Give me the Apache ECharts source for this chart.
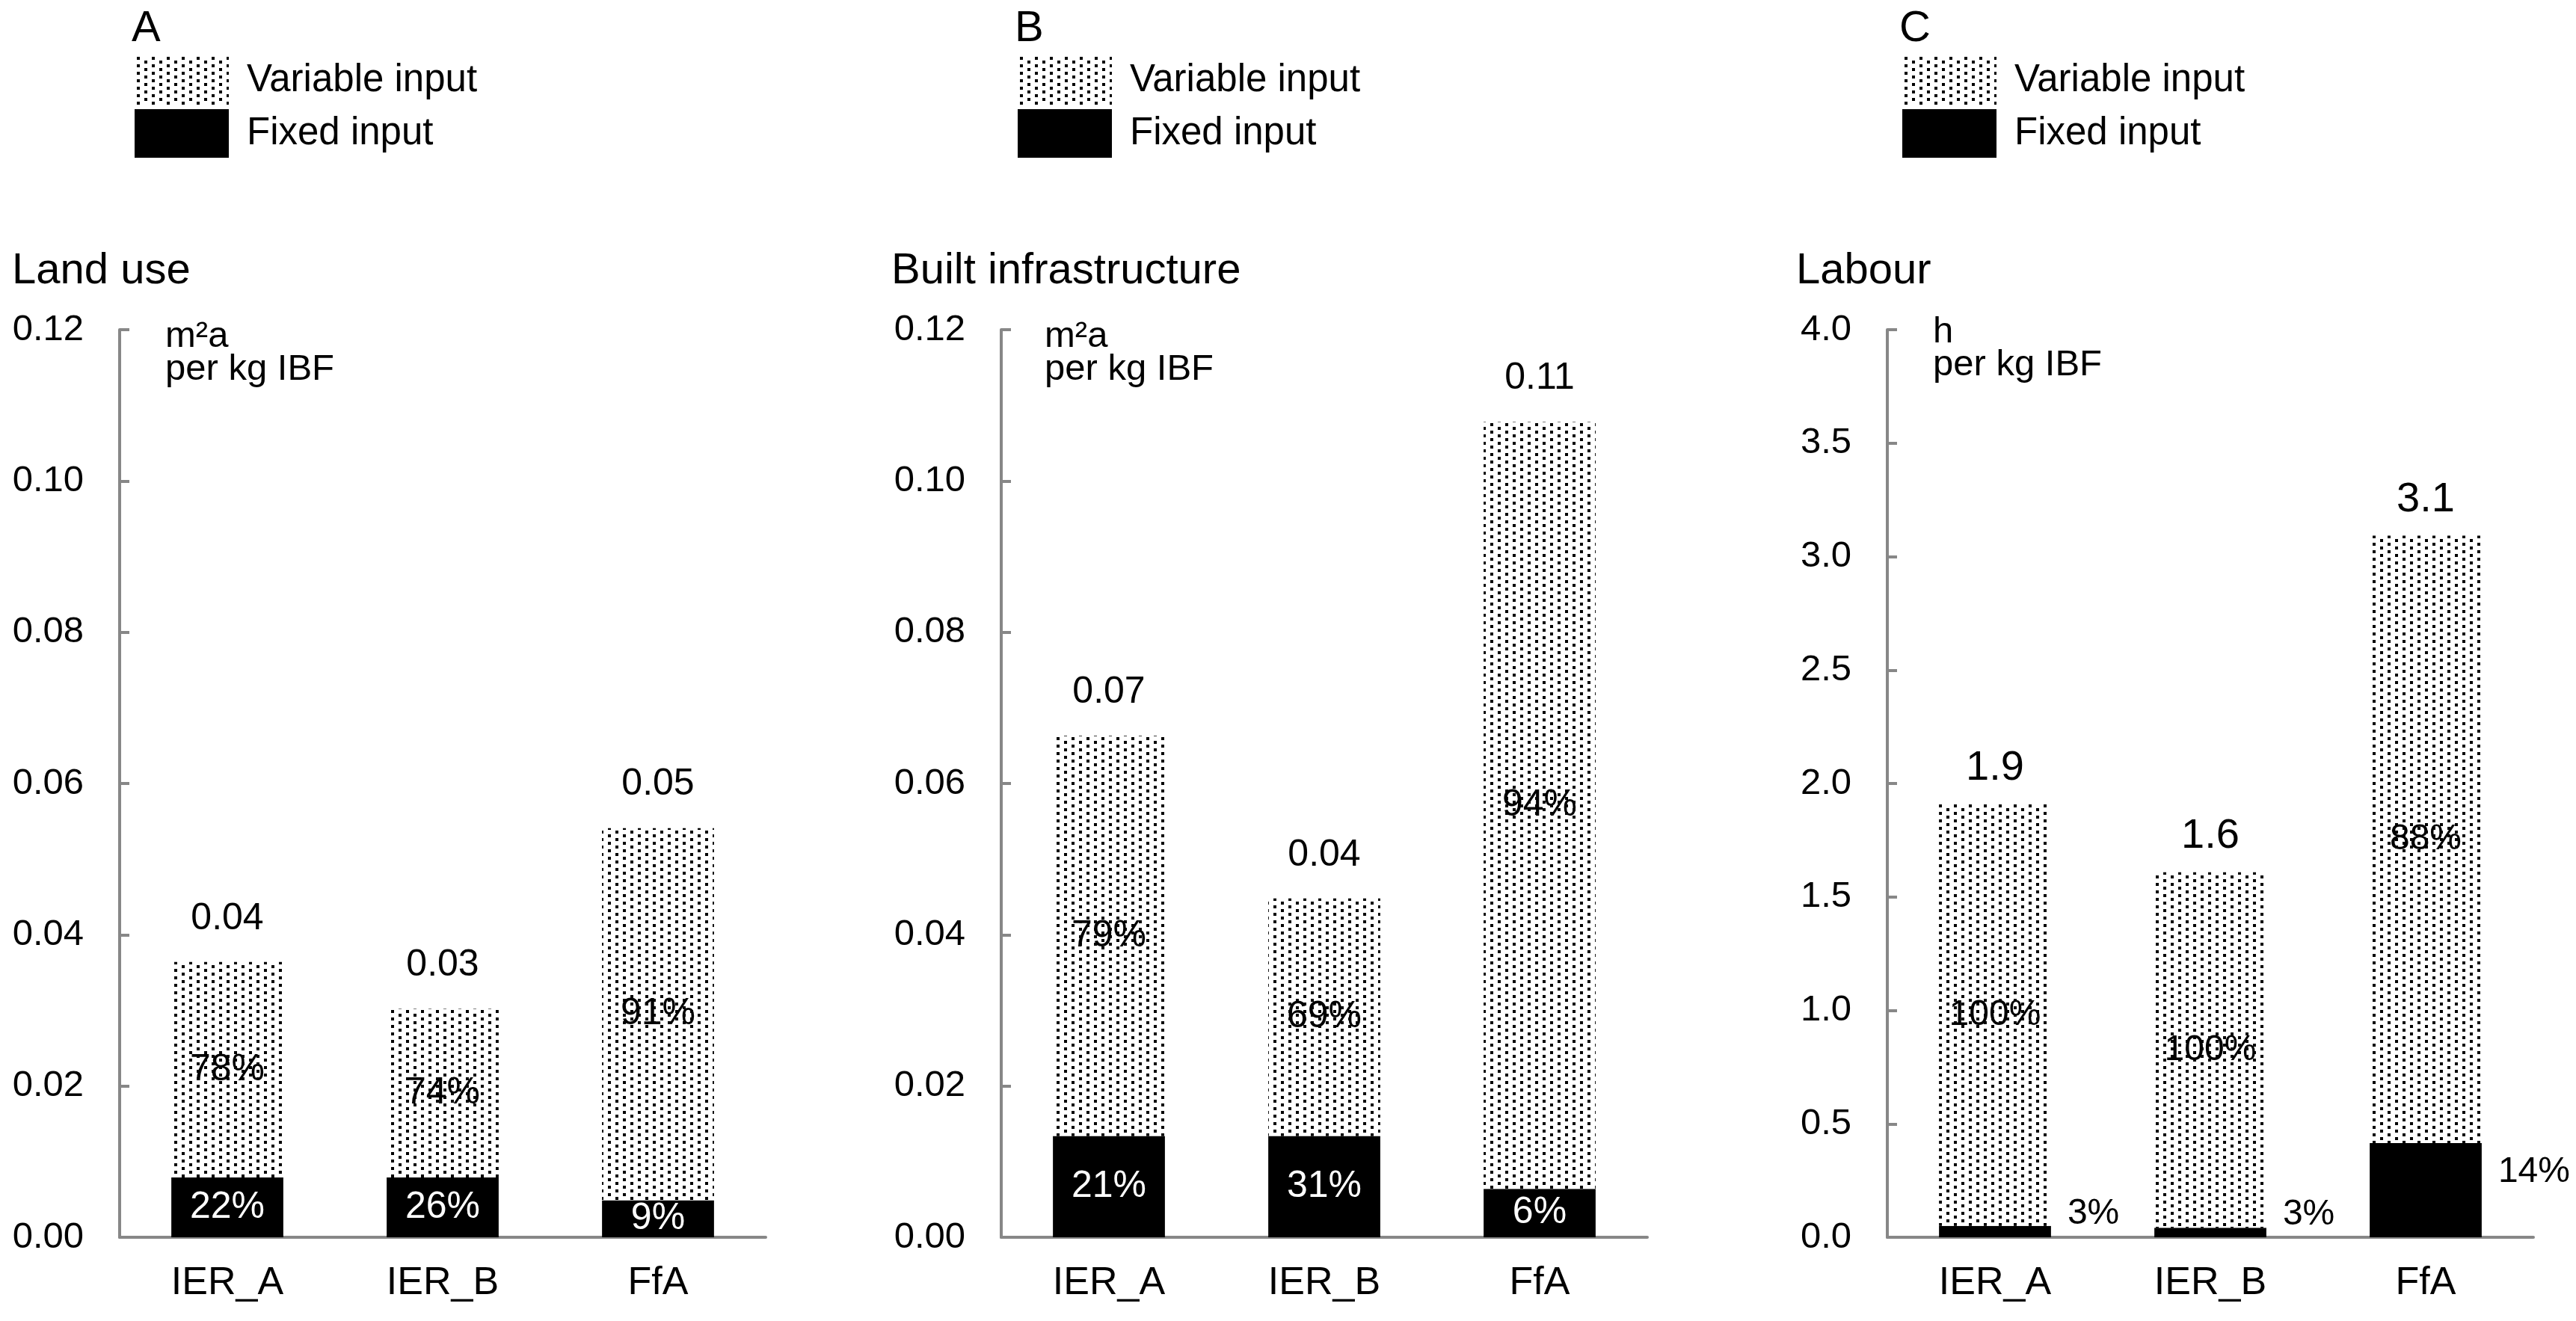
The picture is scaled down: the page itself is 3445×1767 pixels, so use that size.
<!DOCTYPE html>
<html>
<head>
<meta charset="utf-8">
<script src="https://cdn.jsdelivr.net/npm/echarts@6/dist/echarts.min.js"></script>
<style>
  html, body { margin: 0; padding: 0; background: #fff; }
  #chart { width: 3445px; height: 1767px; }
</style>
</head>
<body>
<div id="chart"></div>
<script>
// values (stacked: fixed at bottom, variable on top)
const categories = ['IER_A', 'IER_B', 'FfA'];
const seriesNames = ['Variable input', 'Fixed input'];
const panelLetters = ['A', 'B', 'C'];
const panelTitles = ['Land use', 'Built infrastructure', 'Labour'];
const unitLabels = ['m²a\nper kg IBF', 'm²a\nper kg IBF', 'h\nper kg IBF'];

const landFixed = [0.0079, 0.0079, 0.0049];
const landVariable = [0.0285, 0.0223, 0.0492];
const landFixedPct = ['22%', '26%', '9%'];
const landVariablePct = ['78%', '74%', '91%'];

const infraFixed = [0.0134, 0.0134, 0.0064];
const infraVariable = [0.0529, 0.0314, 0.1014];
const infraFixedPct = ['21%', '31%', '6%'];
const infraVariablePct = ['79%', '69%', '94%'];

const labourFixed = [0.050, 0.042, 0.415];
const labourVariable = [1.858, 1.567, 2.677];
const labourFixedPct = ['3%', '3%', '14%'];
const labourVariablePct = ['100%', '100%', '88%'];

// y axis: [max, interval, decimals]
const landAxis = [0.12, 0.02, 2];
const infraAxis = [0.12, 0.02, 2];
const labourAxis = [4, 0.5, 1];

const FONT = "'Liberation Sans', Arial, Helvetica, sans-serif";
const AXIS_GREY = '#878787';

// dotted fill used for the variable share
function dotPattern() {
  const c = document.createElement('canvas');
  c.width = 20; c.height = 10;
  const g = c.getContext('2d');
  g.fillStyle = '#fff';
  g.fillRect(0, 0, 20, 10);
  g.fillStyle = '#000';
  g.fillRect(3, 1, 4, 4);
  g.fillRect(13, 6, 4, 4);
  return { image: c, repeat: 'repeat' };
}
const dots = dotPattern();

const panels = [
  { fixed: landFixed, variable: landVariable, fixedPct: landFixedPct, variablePct: landVariablePct, axis: landAxis,
    left: 160, titleX: 16, legendX: 180, unitX: 221, unitY: 428, fixedOutside: false, totalSize: 50, totalGap: 33 },
  { fixed: infraFixed, variable: infraVariable, fixedPct: infraFixedPct, variablePct: infraVariablePct, axis: infraAxis,
    left: 1339, titleX: 1192, legendX: 1361, unitX: 1397, unitY: 428, fixedOutside: false, totalSize: 50, totalGap: 33 },
  { fixed: labourFixed, variable: labourVariable, fixedPct: labourFixedPct, variablePct: labourVariablePct, axis: labourAxis,
    left: 2524, titleX: 2402, legendX: 2544, unitX: 2585, unitY: 422, fixedOutside: true, totalSize: 56, totalGap: 20 }
];

const grid = [], xAxis = [], yAxis = [], series = [], title = [], legend = [], graphic = [];

panels.forEach((p, i) => {
  const totals = p.fixed.map((v, k) => v + p.variable[k]);
  const dec = p.axis[2];

  grid.push({ left: p.left, top: 441, width: 864, height: 1214, outerBoundsMode: 'none' });

  xAxis.push({
    type: 'category', gridIndex: i, data: categories,
    axisLine: { lineStyle: { color: AXIS_GREY, width: 4 } },
    axisTick: { length: 17, lineStyle: { color: AXIS_GREY, width: 4 } },
    axisLabel: { fontSize: 52, color: '#000', margin: 36, fontFamily: FONT }
  });

  yAxis.push({
    type: 'value', gridIndex: i, min: 0, max: p.axis[0], interval: p.axis[1],
    axisLine: { show: true, lineStyle: { color: AXIS_GREY, width: 4 } },
    axisTick: { show: true, inside: true, length: 13, lineStyle: { color: AXIS_GREY, width: 4 } },
    splitLine: { show: false },
    axisLabel: { fontSize: 49, color: '#000', margin: 48, fontFamily: FONT,
      formatter: v => v.toFixed(dec) }
  });

  series.push({
    name: 'Fixed input', type: 'bar', stack: 'p' + i, xAxisIndex: i, yAxisIndex: i,
    barWidth: '52%', itemStyle: { color: '#000' },
    label: p.fixedOutside
      ? { show: true, position: 'right', distance: 22, offset: [0, -24], color: '#000', fontSize: 48,
          fontFamily: FONT, formatter: d => p.fixedPct[d.dataIndex] }
      : { show: true, position: 'inside', color: '#fff', fontSize: 50,
          fontFamily: FONT, formatter: d => p.fixedPct[d.dataIndex] },
    data: p.fixed
  });

  series.push({
    name: 'Variable input', type: 'bar', stack: 'p' + i, xAxisIndex: i, yAxisIndex: i,
    barWidth: '52%', itemStyle: { color: dots },
    label: { show: true, position: 'inside', color: '#000', fontSize: p.fixedOutside ? 48 : 50,
      fontFamily: FONT, formatter: d => p.variablePct[d.dataIndex] },
    data: p.variable
  });

  // total value above each bar (invisible point, label only)
  series.push({
    name: 'Total', type: 'scatter', xAxisIndex: i, yAxisIndex: i, silent: true,
    symbol: 'circle', symbolSize: 0, itemStyle: { color: '#000', opacity: 1 },
    label: { show: true, position: 'top', distance: p.totalGap, color: '#000', opacity: 1,
      fontSize: p.totalSize, fontFamily: FONT, formatter: d => totals[d.dataIndex].toFixed(dec) },
    data: totals
  });

  title.push({ text: panelLetters[i], left: p.legendX - 4, top: 10, padding: 0,
    textStyle: { fontSize: 58, fontWeight: 'normal', color: '#000', fontFamily: FONT } });
  title.push({ text: panelTitles[i], left: p.titleX, top: 334, padding: 0,
    textStyle: { fontSize: 58, fontWeight: 'normal', color: '#000', fontFamily: FONT } });

  legend.push({
    data: seriesNames, orient: 'vertical', left: p.legendX, top: 75, padding: 0,
    itemWidth: 126, itemHeight: 65, itemGap: 6, icon: 'rect', selectedMode: false,
    textStyle: { fontSize: 51, color: '#000', fontFamily: FONT, padding: [0, 0, 0, 19] }
  });

  graphic.push({
    type: 'text', x: p.unitX, y: p.unitY, silent: true,
    style: { text: unitLabels[i], font: '49px ' + FONT, fill: '#000', lineHeight: 44 }
  });
});

const chart = echarts.init(document.getElementById('chart'), null, { renderer: 'canvas' });
chart.setOption({
  backgroundColor: '#fff',
  animation: false,
  textStyle: { fontFamily: FONT },
  title, legend, grid, xAxis, yAxis, series, graphic
});
</script>
</body>
</html>
